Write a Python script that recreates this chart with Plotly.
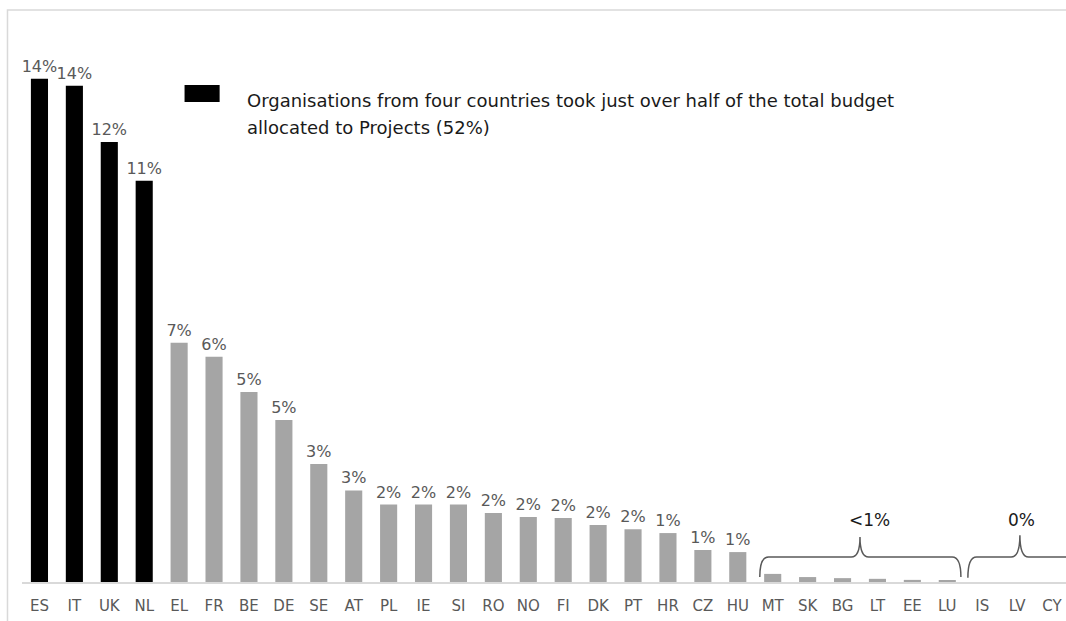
import plotly.graph_objects as go

countries = ["ES", "IT", "UK", "NL", "EL", "FR", "BE", "DE", "SE", "AT", "PL", "IE", "SI", "RO", "NO",
             "FI", "DK", "PT", "HR", "CZ", "HU", "MT", "SK", "BG", "LT", "EE", "LU", "IS", "LV", "CY"]
shares = [14.3, 14.1, 12.5, 11.4, 6.8, 6.4, 5.4, 4.6, 3.35, 2.6, 2.2, 2.2, 2.2, 1.96, 1.85,
          1.82, 1.62, 1.5, 1.39, 0.91, 0.85, 0.23, 0.14, 0.11, 0.09, 0.06, 0.03, 0, 0, 0]
labels = ["14%", "14%", "12%", "11%", "7%", "6%", "5%", "5%", "3%", "3%", "2%", "2%", "2%", "2%", "2%",
          "2%", "2%", "2%", "1%", "1%", "1%", "", "", "", "", "", "", "", "", ""]
top_countries = ["ES", "IT", "UK", "NL"]
under1 = ["MT", "SK", "BG", "LT", "EE", "LU"]
zero = ["IS", "LV", "CY"]
legend_lines = ["Organisations from four countries took just over half of the total budget",
                "allocated to Projects (52%)"]

FONT = "DejaVu Sans"
idx = list(range(len(countries)))
colors = ["#000000" if c in top_countries else "#a5a5a5" for c in countries]

fig = go.Figure(go.Bar(
    x=idx, y=shares, text=labels, textposition="outside", constraintext="none",
    cliponaxis=False, marker=dict(color=colors, line=dict(width=0)), width=0.49,
    textfont=dict(family=FONT, size=16, color="#595959"), hoverinfo="x+y",
))

def brace(x0, x1, xm, yb, yh, yt, d=0.25):
    return (f"M {x0},{yb} Q {x0},{yh} {x0+d},{yh} L {xm-d},{yh} "
            f"Q {xm},{yh} {xm},{yt} Q {xm},{yh} {xm+d},{yh} "
            f"L {x1-d},{yh} Q {x1},{yh} {x1},{yb}")

shapes = []
i0, i1 = countries.index(under1[0]), countries.index(under1[-1])
shapes.append(dict(type="path", xref="x", yref="y",
                   path=brace(i0 - 0.37, i1 + 0.39, (i0 + i1) / 2, 0.14, 0.71, 1.28),
                   line=dict(color="#595959", width=1.5)))
j0, j1 = countries.index(zero[0]), countries.index(zero[-1])
shapes.append(dict(type="path", xref="x", yref="y",
                   path=brace(j0 - 0.41, j1 + 1.5, (j0 + j1) / 2 + 0.08, 0.12, 0.71, 1.33),
                   line=dict(color="#595959", width=1.5)))
# legend swatch
shapes.append(dict(type="rect", xref="paper", yref="paper", x0=0.1557, x1=0.1893, y0=0.839, y1=0.869,
                   fillcolor="#000000", line=dict(width=0)))
# outer frame
shapes.append(dict(type="rect", xref="paper", yref="paper", x0=-0.0139, x1=1.02, y0=-0.2, y1=1.0,
                   line=dict(color="#d9d9d9", width=1.5), fillcolor="rgba(0,0,0,0)", layer="below"))

annotations = [
    dict(x=0.214, y=(582 - 101) / 572, xref="paper", yref="paper", text=legend_lines[0],
         showarrow=False, xanchor="left", yanchor="middle",
         font=dict(family=FONT, size=18, color="#1a1a1a")),
    dict(x=0.214, y=(582 - 127) / 572, xref="paper", yref="paper", text=legend_lines[1],
         showarrow=False, xanchor="left", yanchor="middle",
         font=dict(family=FONT, size=18, color="#1a1a1a")),
    dict(x=(i0 + i1) / 2 + 0.28, y=1.76, xref="x", yref="y", text="<1%", showarrow=False,
         font=dict(family=FONT, size=17, color="#1a1a1a")),
    dict(x=(j0 + j1) / 2 + 0.12, y=1.76, xref="x", yref="y", text="0%", showarrow=False,
         font=dict(family=FONT, size=17, color="#1a1a1a")),
]

fig.update_layout(
    width=1066, height=621, margin=dict(l=22, r=0, t=10, b=39),
    paper_bgcolor="white", plot_bgcolor="white", showlegend=False,
    shapes=shapes, annotations=annotations,
    xaxis=dict(range=[-0.5, 29.4], tickvals=idx, ticktext=countries, showgrid=False, zeroline=False,
               showline=True, linecolor="#d9d9d9", linewidth=1.5, ticks="", ticklabelstandoff=9,
               tickfont=dict(family=FONT, size=15, color="#595959")),
    yaxis=dict(range=[0, 16.25], visible=False, showgrid=False, zeroline=False),
)

fig.write_html("out.html", config={"displayModeBar": False},
               post_script="document.body.style.margin='0px';document.body.style.overflow='hidden';")
